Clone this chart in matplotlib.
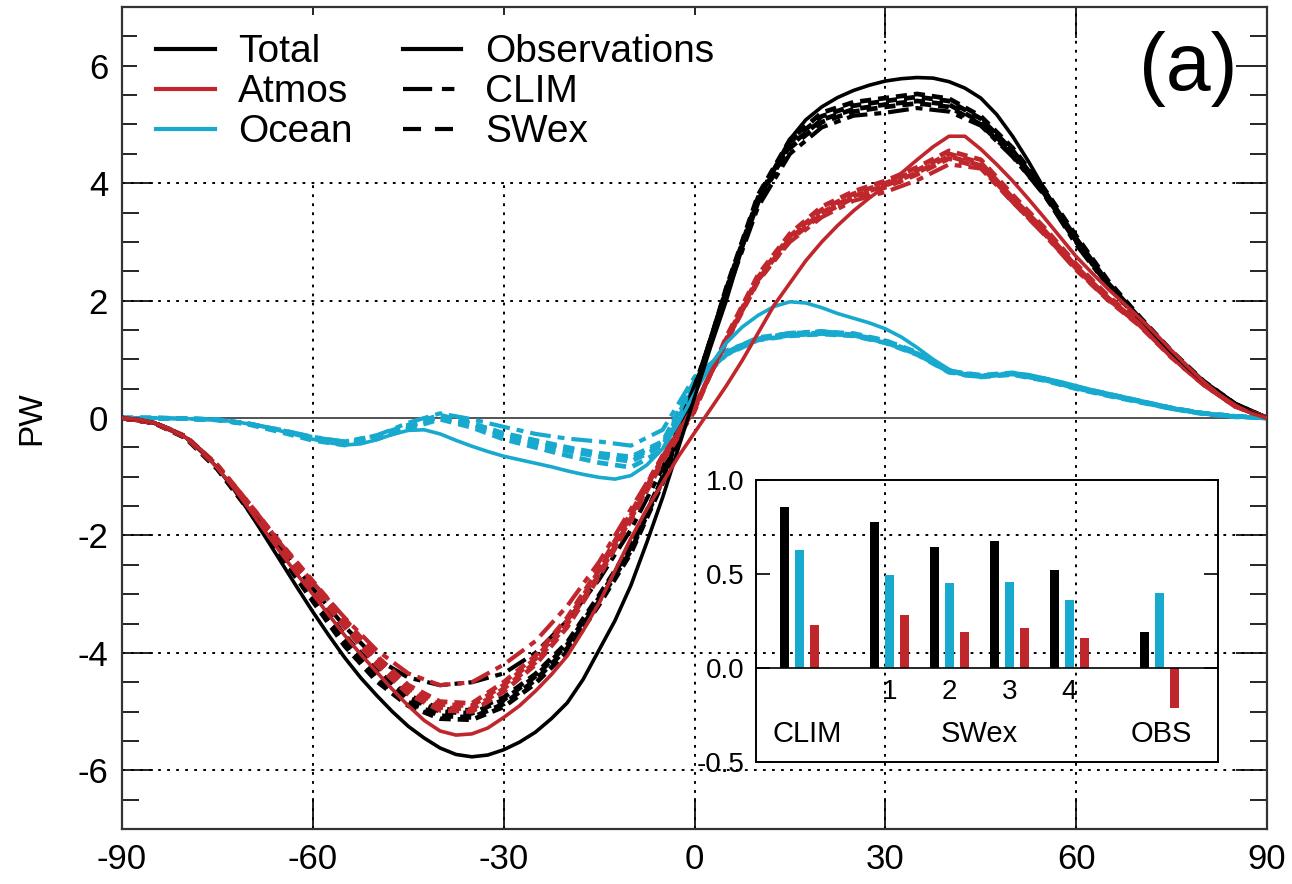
import matplotlib
matplotlib.use("Agg")
import matplotlib.pyplot as plt
from matplotlib.lines import Line2D
import numpy as np

plt.rcParams['font.family'] = ['Liberation Sans', 'DejaVu Sans']
plt.rcParams['lines.scale_dashes'] = False
plt.rcParams['axes.unicode_minus'] = False

# latitude grids (deg): observations read every 2.5, model runs every 5
lat_obs = list(np.arange(-90, 90.1, 2.5))
lat = list(range(-90, 91, 5))

# Total (black)
total_obs = [0, -0.02, -0.08, -0.18, -0.33, -0.55, -0.85, -1.2, -1.6, -2.02, -2.45, -2.88, -3.3, -3.7, -4.08,
             -4.42, -4.72, -5.0, -5.25, -5.45, -5.62, -5.73, -5.77, -5.74, -5.65, -5.52, -5.35, -5.12, -4.85,
             -4.45, -3.95, -3.45, -2.85, -2.12, -1.35, -0.5, 0.35, 1.2, 2.0, 2.9, 3.65, 4.25, 4.75, 5.08, 5.3,
             5.46, 5.58, 5.67, 5.74, 5.78, 5.8, 5.79, 5.73, 5.62, 5.45, 5.17, 4.8, 4.37, 3.9, 3.44, 3.0, 2.62,
             2.28, 1.98, 1.7, 1.4, 1.12, 0.86, 0.62, 0.42, 0.25, 0.1, 0]
total_clim = [0, -0.08, -0.32, -0.82, -1.5, -2.2, -2.9, -3.55, -4.1, -4.42, -4.55, -4.5, -4.35, -4.0, -3.45,
              -2.75, -1.9, -0.85, 0.55, 2.1, 3.6, 4.5, 4.95, 5.15, 5.2, 5.28, 5.22, 4.98, 4.45, 3.8, 2.95, 2.25,
              1.65, 1.08, 0.6, 0.22, 0]
total_swex1 = [0, -0.08, -0.34, -0.87, -1.58, -2.35, -3.12, -3.88, -4.48, -4.9, -5.12, -5.14, -4.92, -4.52, -3.98,
               -3.18, -2.3, -1.1, 0.42, 2.22, 3.8, 4.74, 5.2, 5.38, 5.45, 5.52, 5.44, 5.14, 4.6, 3.9, 3.1, 2.34,
               1.72, 1.14, 0.63, 0.24, 0]
total_swex2 = [0, -0.08, -0.33, -0.85, -1.56, -2.31, -3.06, -3.8, -4.42, -4.84, -5.07, -5.1, -4.87, -4.46, -3.92,
               -3.12, -2.26, -1.06, 0.46, 2.2, 3.76, 4.7, 5.14, 5.32, 5.4, 5.47, 5.4, 5.1, 4.56, 3.86, 3.06, 2.3,
               1.7, 1.12, 0.62, 0.24, 0]
total_swex3 = [0, -0.08, -0.32, -0.84, -1.53, -2.27, -3.0, -3.74, -4.35, -4.76, -5.0, -5.03, -4.8, -4.4, -3.86,
               -3.06, -2.2, -1.02, 0.48, 2.18, 3.72, 4.64, 5.08, 5.26, 5.34, 5.4, 5.34, 5.04, 4.52, 3.82, 3.02, 2.28,
               1.68, 1.1, 0.6, 0.23, 0]
total_swex4 = [0, -0.08, -0.32, -0.83, -1.52, -2.25, -2.98, -3.7, -4.3, -4.72, -4.96, -4.98, -4.76, -4.36, -3.82,
               -3.02, -2.18, -1.0, 0.5, 2.16, 3.7, 4.6, 5.04, 5.22, 5.3, 5.36, 5.3, 5.0, 4.48, 3.8, 3.0, 2.26,
               1.66, 1.1, 0.6, 0.23, 0]

# Atmos (red)
atmos_obs = [0, -0.02, -0.08, -0.18, -0.33, -0.55, -0.85, -1.18, -1.55, -1.93, -2.3, -2.66, -3.0, -3.35, -3.7,
             -4.02, -4.32, -4.62, -4.9, -5.15, -5.33, -5.4, -5.38, -5.28, -5.1, -4.9, -4.65, -4.37, -4.05, -3.62,
             -3.15, -2.6, -2.05, -1.55, -1.1, -0.65, -0.25, 0.15, 0.55, 0.98, 1.45, 1.92, 2.3, 2.68, 3.0, 3.28,
             3.53, 3.75, 3.95, 4.17, 4.4, 4.62, 4.8, 4.8, 4.58, 4.32, 4.04, 3.73, 3.41, 3.08, 2.75, 2.47, 2.2,
             1.95, 1.7, 1.43, 1.15, 0.88, 0.62, 0.4, 0.22, 0.08, 0]
atmos_clim = [0, -0.08, -0.32, -0.8, -1.45, -2.15, -2.8, -3.4, -3.95, -4.35, -4.55, -4.5, -4.2, -3.8, -3.2,
              -2.45, -1.55, -0.65, 0.2, 1.3, 2.35, 3.0, 3.42, 3.7, 3.85, 4.05, 4.32, 4.25, 3.68, 3.12, 2.52, 2.02,
              1.58, 1.04, 0.57, 0.2, 0]
atmos_swex1 = [0, -0.08, -0.33, -0.84, -1.53, -2.24, -2.9, -3.56, -4.2, -4.7, -4.98, -5.0, -4.66, -4.2, -3.56,
               -2.7, -1.74, -0.74, 0.12, 1.38, 2.44, 3.14, 3.6, 3.86, 4.04, 4.27, 4.55, 4.4, 3.8, 3.24, 2.62, 2.08,
               1.62, 1.06, 0.59, 0.2, 0]
atmos_swex2 = [0, -0.08, -0.32, -0.82, -1.5, -2.2, -2.86, -3.5, -4.15, -4.65, -4.93, -4.96, -4.61, -4.16, -3.51,
               -2.66, -1.71, -0.71, 0.15, 1.35, 2.4, 3.1, 3.55, 3.82, 4.0, 4.22, 4.5, 4.35, 3.75, 3.2, 2.58, 2.05,
               1.6, 1.05, 0.58, 0.2, 0]
atmos_swex3 = [0, -0.08, -0.32, -0.81, -1.48, -2.17, -2.82, -3.46, -4.1, -4.6, -4.88, -4.9, -4.55, -4.1, -3.45,
               -2.6, -1.66, -0.67, 0.18, 1.32, 2.36, 3.06, 3.5, 3.78, 3.96, 4.18, 4.46, 4.3, 3.7, 3.16, 2.55, 2.03,
               1.58, 1.04, 0.57, 0.2, 0]
atmos_swex4 = [0, -0.08, -0.31, -0.8, -1.46, -2.14, -2.78, -3.42, -4.05, -4.55, -4.83, -4.86, -4.5, -4.05, -3.4,
               -2.56, -1.62, -0.64, 0.2, 1.3, 2.33, 3.03, 3.47, 3.75, 3.93, 4.15, 4.42, 4.27, 3.68, 3.14, 2.53, 2.01,
               1.57, 1.03, 0.57, 0.2, 0]

# Ocean (cyan)
ocean_obs = [0, 0, 0, -0.005, -0.01, -0.02, -0.03, -0.06, -0.1, -0.15, -0.22, -0.29, -0.36, -0.42, -0.46, -0.44,
             -0.37, -0.28, -0.21, -0.2, -0.27, -0.38, -0.48, -0.57, -0.65, -0.71, -0.77, -0.83, -0.9, -0.96, -1.01,
             -1.04, -0.98, -0.8, -0.52, -0.08, 0.42, 0.9, 1.28, 1.55, 1.75, 1.9, 1.98, 1.96, 1.88, 1.78, 1.7, 1.62,
             1.52, 1.38, 1.2, 1.0, 0.83, 0.72, 0.7, 0.74, 0.77, 0.74, 0.68, 0.62, 0.55, 0.48, 0.42, 0.36, 0.3, 0.24,
             0.18, 0.12, 0.08, 0.05, 0.03, 0.01, 0]
ocean_clim = [0, 0, -0.01, -0.03, -0.1, -0.2, -0.32, -0.4, -0.3, -0.08, 0.08, -0.02, -0.15, -0.27, -0.35,
              -0.4, -0.47, -0.2, 0.7, 1.15, 1.35, 1.45, 1.48, 1.42, 1.32, 1.1, 0.78, 0.72, 0.76, 0.66, 0.52, 0.4,
              0.28, 0.17, 0.08, 0.03, 0]
ocean_swex1 = [0, 0, -0.01, -0.03, -0.11, -0.24, -0.38, -0.46, -0.36, -0.18, -0.02, -0.16, -0.36, -0.5, -0.64,
               -0.76, -0.84, -0.55, 0.55, 1.08, 1.33, 1.4, 1.43, 1.4, 1.28, 1.08, 0.78, 0.7, 0.74, 0.64, 0.5, 0.38,
               0.27, 0.16, 0.07, 0.02, 0]
ocean_swex2 = [0, 0, -0.01, -0.03, -0.1, -0.22, -0.35, -0.43, -0.33, -0.15, 0.02, -0.12, -0.3, -0.43, -0.56,
               -0.66, -0.74, -0.47, 0.6, 1.1, 1.35, 1.42, 1.45, 1.42, 1.3, 1.1, 0.8, 0.72, 0.76, 0.66, 0.52, 0.4,
               0.28, 0.17, 0.08, 0.03, 0]
ocean_swex3 = [0, 0, -0.01, -0.03, -0.1, -0.21, -0.33, -0.41, -0.3, -0.12, 0.05, -0.09, -0.26, -0.38, -0.5,
               -0.6, -0.66, -0.4, 0.63, 1.12, 1.37, 1.44, 1.47, 1.44, 1.32, 1.12, 0.8, 0.73, 0.77, 0.67, 0.53, 0.41,
               0.29, 0.17, 0.08, 0.03, 0]
ocean_swex4 = [0, 0, -0.01, -0.03, -0.1, -0.21, -0.34, -0.42, -0.32, -0.14, 0.03, -0.1, -0.28, -0.4, -0.52,
               -0.62, -0.7, -0.43, 0.58, 1.09, 1.34, 1.41, 1.44, 1.41, 1.29, 1.09, 0.79, 0.71, 0.75, 0.65, 0.51, 0.39,
               0.28, 0.16, 0.08, 0.03, 0]

# inset bar values (PW)
groups = ["CLIM", "1", "2", "3", "4", "OBS"]
bar_total = [0.856, 0.777, 0.642, 0.674, 0.523, 0.191]
bar_ocean = [0.626, 0.493, 0.452, 0.459, 0.363, 0.399]
bar_atmos = [0.23, 0.282, 0.19, 0.213, 0.158, -0.213]
group_pos = [0, 1.5, 2.5, 3.5, 4.5, 6]

BLACK = "black"
RED = "#c0272d"
CYAN = "#18a9cf"
CLIM_DASH = (0, (15, 5, 5, 5))
SWEX_DASH = (0, (8, 5))
GRID = (0, (2, 4.5))

fig = plt.figure(figsize=(12.92, 8.84), dpi=100)
ax = fig.add_axes([0.0944, 0.0622, 0.8863, 0.9298])

# grid + zero line (the legend box hides the upper part on the left)
for yy in [-6, -4, -2, 2, 4]:
    ax.axhline(yy, color="black", lw=1.4, ls=GRID, zorder=0)
for xx in [-60, -30, 0]:
    ax.axvline(xx, ymax=0.783, color="black", lw=1.4, ls=GRID, zorder=0)
for xx in [30, 60]:
    ax.axvline(xx, color="black", lw=1.4, ls=GRID, zorder=0)
ax.axhline(0, color="#444444", lw=1.3, zorder=1)

series = [
    (CYAN, ocean_obs, ocean_clim, [ocean_swex1, ocean_swex2, ocean_swex3, ocean_swex4]),
    (BLACK, total_obs, total_clim, [total_swex1, total_swex2, total_swex3, total_swex4]),
    (RED, atmos_obs, atmos_clim, [atmos_swex1, atmos_swex2, atmos_swex3, atmos_swex4]),
]
for col, obs, clim, swex in series:
    for run in swex:
        ax.plot(lat, run, color=col, lw=3.4, ls=SWEX_DASH, zorder=2)
    ax.plot(lat, clim, color=col, lw=3.0, ls=CLIM_DASH, zorder=2)
    ax.plot(lat_obs, obs, color=col, lw=2.6, zorder=3)

ax.set_xlim(-90, 90)
ax.set_ylim(-7, 7)
ax.set_xticks(range(-90, 91, 30))
ax.set_yticks(range(-6, 7, 2))
ax.set_yticks(np.arange(-7, 7.01, 0.5), minor=True)
ax.tick_params(which="major", direction="in", length=22, width=1.2, top=True, right=True,
               labelsize=25, pad=10)
ax.tick_params(which="minor", direction="in", length=12, width=1.2, right=True)
ax.tick_params(axis="x", which="minor", bottom=False, top=False)
for s in ax.spines.values():
    s.set_linewidth(1.6)
    s.set_color("#333333")
ax.set_ylabel("PW", fontsize=24)
ax.yaxis.set_label_coords(-0.065, 0.5)
ax.text(0.931, 0.925, "(a)", transform=ax.transAxes, fontsize=58, ha="center", va="center")

handles = [
    Line2D([], [], color=BLACK, lw=3),
    Line2D([], [], color=RED, lw=3),
    Line2D([], [], color=CYAN, lw=3),
    Line2D([], [], color=BLACK, lw=3),
    Line2D([], [], color=BLACK, lw=3, ls=(0, (21, 7, 9, 10))),
    Line2D([], [], color=BLACK, lw=3, ls=(0, (13, 10))),
]
labels = ["Total", "Atmos", "Ocean", "Observations", "CLIM", "SWex"]
leg = ax.legend(handles, labels, ncol=2, loc="upper left", bbox_to_anchor=(0.009, 0.996),
                fontsize=28, frameon=True, facecolor="white", edgecolor="none", framealpha=1,
                handlelength=1.5, handletextpad=0.6, columnspacing=1.3, labelspacing=0.1,
                borderpad=0.5, borderaxespad=0.12, fancybox=False)
leg.set_zorder(5)

# inset
ins = fig.add_axes([0.585, 0.138, 0.3576, 0.319], facecolor="none")
ins.bar([p - 0.25 for p in group_pos], bar_total, width=0.15, color=BLACK)
ins.bar(group_pos, bar_ocean, width=0.15, color=CYAN)
ins.bar([p + 0.25 for p in group_pos], bar_atmos, width=0.15, color=RED)
ins.axhline(0, color="black", lw=1.2)
ins.set_xlim(-0.73, 6.98)
ins.set_ylim(-0.5, 1.0)
ins.set_yticks([-0.5, 0.0, 0.5, 1.0])
ins.set_yticklabels(["-0.5", "0.0", "0.5", "1.0"])
ins.set_xticks([])
ins.tick_params(axis="y", direction="in", length=10, width=1.2, right=True, labelsize=20, pad=8)
for s in ins.spines.values():
    s.set_linewidth(1.4)
for p, g in zip(group_pos[1:5], groups[1:5]):
    ins.text(p, -0.13, g, ha="center", va="center", fontsize=20)
ins.text(0.12, -0.35, "CLIM", ha="center", va="center", fontsize=21)
ins.text(3.0, -0.35, "SWex", ha="center", va="center", fontsize=21)
ins.text(6.03, -0.35, "OBS", ha="center", va="center", fontsize=21)

fig.savefig("out.png", dpi=100)
